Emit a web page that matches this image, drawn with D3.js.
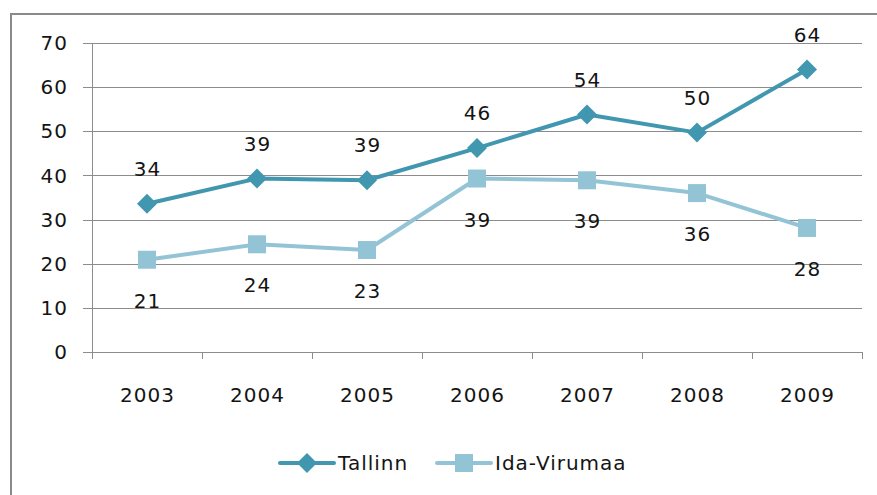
<!DOCTYPE html>
<html>
<head>
<meta charset="utf-8">
<script src="https://d3js.org/d3.v7.min.js"></script>
<style>
  body { margin: 0; background: #fff; }
  text { font-family: "DejaVu Sans", sans-serif; fill: #141414; letter-spacing: 1px; }
</style>
</head>
<body>
<div id="chart"></div>
<script>
// data
var years = ["2003", "2004", "2005", "2006", "2007", "2008", "2009"];
var tallinn = [33.6, 39.3, 38.9, 46.2, 53.8, 49.7, 64.0];
var idaVirumaa = [20.9, 24.4, 23.1, 39.3, 38.9, 36.0, 28.1];
var yTicks = [0, 10, 20, 30, 40, 50, 60, 70];
var seriesNames = ["Tallinn", "Ida-Virumaa"];

var width = 877, height = 495;
var plot = {left: 92, right: 862, top: 43, bottom: 352};

var svg = d3.select("#chart").append("svg")
    .attr("width", width)
    .attr("height", height);

// outer frame (runs off the right and bottom edge)
svg.append("path")
    .attr("d", "M11,500 L11,14 L880,14")
    .attr("fill", "none")
    .attr("stroke", "#8a8a8a")
    .attr("stroke-width", 2);

var x = d3.scaleBand()
    .domain(years)
    .range([plot.left, plot.right]);

var y = d3.scaleLinear()
    .domain([0, 70])
    .range([plot.bottom, plot.top]);

// gridlines
svg.append("g")
  .selectAll("line")
  .data(yTicks)
  .enter().append("line")
    .attr("x1", plot.left - 9)
    .attr("x2", plot.right)
    .attr("y1", function(d) { return Math.round(y(d)) + 0.5; })
    .attr("y2", function(d) { return Math.round(y(d)) + 0.5; })
    .attr("stroke", "#8c8c8c")
    .attr("stroke-width", 1);

// y axis line
svg.append("line")
    .attr("x1", plot.left + 0.5).attr("x2", plot.left + 0.5)
    .attr("y1", plot.top).attr("y2", plot.bottom + 7)
    .attr("stroke", "#8c8c8c");

// x category ticks
svg.append("g")
  .selectAll("line")
  .data(years)
  .enter().append("line")
    .attr("x1", function(d) { return Math.round(x(d) + x.bandwidth()) + 0.5; })
    .attr("x2", function(d) { return Math.round(x(d) + x.bandwidth()) + 0.5; })
    .attr("y1", plot.bottom)
    .attr("y2", plot.bottom + 7)
    .attr("stroke", "#8c8c8c");

// y labels
svg.append("g")
  .selectAll("text")
  .data(yTicks)
  .enter().append("text")
    .attr("x", 68)
    .attr("y", function(d) { return y(d); })
    .attr("dy", "0.36em")
    .attr("text-anchor", "end")
    .style("font-size", "20px")
    .text(function(d) { return d; });

// x labels
svg.append("g")
  .selectAll("text")
  .data(years)
  .enter().append("text")
    .attr("x", function(d) { return x(d) + x.bandwidth() / 2 + 0.5; })
    .attr("y", 402)
    .attr("text-anchor", "middle")
    .style("font-size", "20px")
    .text(function(d) { return d; });

var colors = ["#4197af", "#93c4d6"];

var line = d3.line()
    .x(function(d, i) { return x(years[i]) + x.bandwidth() / 2; })
    .y(function(d) { return y(d); });

function drawSeries(values, color, marker, labelOffset) {
  var g = svg.append("g");
  g.append("path")
    .datum(values)
    .attr("d", line)
    .attr("fill", "none")
    .attr("stroke", color)
    .attr("stroke-width", 4)
    .attr("stroke-linejoin", "round");

  g.selectAll("path.marker")
    .data(values)
    .enter().append("path")
      .attr("class", "marker")
      .attr("transform", function(d, i) {
        return "translate(" + (x(years[i]) + x.bandwidth() / 2) + "," + y(d) + ")";
      })
      .attr("d", marker)
      .attr("fill", color);

  g.selectAll("text")
    .data(values)
    .enter().append("text")
      .attr("x", function(d, i) { return x(years[i]) + x.bandwidth() / 2 + 0.5; })
      .attr("y", function(d) { return y(d) + labelOffset; })
      .attr("dy", "0.36em")
      .attr("text-anchor", "middle")
      .style("font-size", "20px")
      .text(function(d) { return Math.round(d); });
}

var diamond = "M0,-10 L10,0 L0,10 L-10,0 Z";
var square = "M-9,-9 L9,-9 L9,9 L-9,9 Z";

drawSeries(idaVirumaa, colors[1], square, 41);
drawSeries(tallinn, colors[0], diamond, -35);

// legend
var legend = svg.append("g");
var legendItems = [
  {name: seriesNames[0], color: colors[0], marker: diamond, x: 280},
  {name: seriesNames[1], color: colors[1], marker: square, x: 437}
];
legendItems.forEach(function(it) {
  legend.append("line")
    .attr("x1", it.x).attr("x2", it.x + 54)
    .attr("y1", 463).attr("y2", 463)
    .attr("stroke", it.color)
    .attr("stroke-width", 4)
    .attr("stroke-linecap", "round");
  legend.append("path")
    .attr("transform", "translate(" + (it.x + 27) + ",463)")
    .attr("d", it.marker)
    .attr("fill", it.color);
  legend.append("text")
    .attr("x", it.x + 58)
    .attr("y", 463)
    .attr("dy", "0.36em")
    .style("font-size", "20px")
    .text(it.name);
});
</script>
</body>
</html>
